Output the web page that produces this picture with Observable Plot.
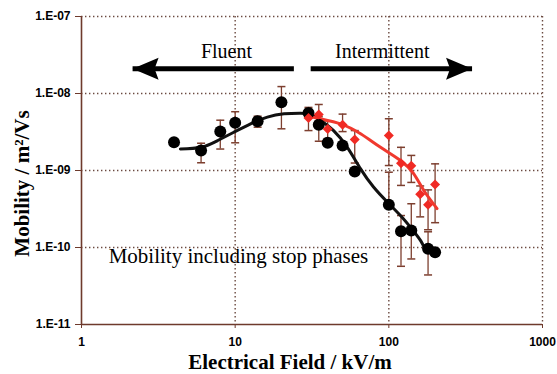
<!DOCTYPE html>
<html><head><meta charset="utf-8">
<script src="https://cdn.jsdelivr.net/npm/d3@7"></script>
<script src="https://cdn.jsdelivr.net/npm/@observablehq/plot@0.6"></script>
<style>body{margin:0;background:#fff}</style>
</head><body><div id="chart"></div>
<script>
// Black series: mobility including stop phases
const blackX = [4, 6, 8, 10, 14, 20, 30, 35, 40, 50, 60, 100, 120, 140, 180, 200];
const blackY = [2.33e-9, 1.82e-9, 3.2e-9, 4.16e-9, 4.37e-9, 7.7e-9, 5.6e-9, 3.93e-9, 2.29e-9, 2.11e-9, 0.97e-9, 3.6e-10, 1.63e-10, 1.66e-10, 9.6e-11, 8.7e-11];
const blackLo = [null, 1.26e-9, 1.9e-9, 2.29e-9, 3.65e-9, 3.48e-9, 3.3e-9, 2.4e-9, null, null, null, 3.6e-10, 5.7e-11, 7.1e-11, 4.4e-11, null];
const blackHi = [null, 2.26e-9, 4.5e-9, 5.8e-9, 5.07e-9, 1.23e-8, 6.6e-9, 5.0e-9, null, null, null, 9.5e-10, 2.6e-10, 3.7e-10, 1.6e-10, null];
// Red series
const redX = [30, 35, 40, 50, 60, 100, 120, 140, 160, 180, 200];
const redY = [4.8e-9, 5.33e-9, 3.47e-9, 3.94e-9, 2.53e-9, 2.85e-9, 1.24e-9, 1.15e-9, 4.9e-10, 3.6e-10, 6.6e-10];
const redLo = [null, 4.0e-9, 2.6e-9, 3.2e-9, 1.25e-9, 1.16e-9, 6.4e-10, 7.0e-10, 2.5e-10, 1.7e-10, 2.1e-10];
const redHi = [null, 7.2e-9, 4.4e-9, 5.4e-9, 3.3e-9, 4.7e-9, 2.0e-9, 1.57e-9, 6.3e-10, 5.6e-10, 1.22e-9];
// Fitted curves
const blackFitX = [4.4, 6, 7.7, 9.8, 12.6, 16.2, 20.8, 26.7, 31, 36, 43.7, 53.7, 65.5, 79.5, 97.7, 119, 138, 161, 173, 192];
const blackFitY = [1.9e-9, 2.0e-9, 2.45e-9, 3.14e-9, 4.04e-9, 4.93e-9, 5.44e-9, 5.55e-9, 5.33e-9, 4.46e-9, 3.3e-9, 2.0e-9, 1.05e-9, 6.1e-10, 3.9e-10, 2.6e-10, 1.84e-10, 1.23e-10, 9.6e-11, 8.7e-11];
const redFitX = [29.5, 36, 48.5, 65.5, 88.3, 119, 145, 169, 206];
const redFitY = [5.18e-9, 4.69e-9, 4.04e-9, 3.0e-9, 2.0e-9, 1.35e-9, 9.1e-10, 5.5e-10, 3.2e-10];
// Axes
const xTicks = [1, 10, 100, 1000];
const xTickLabels = ["1", "10", "100", "1000"];
const yTicks = [1e-11, 1e-10, 1e-9, 1e-8, 1e-7];
const yTickLabels = ["1.E-11", "1.E-10", "1.E-09", "1.E-08", "1.E-07"];
const xLabel = "Electrical Field / kV/m";
const yLabel = "Mobility / m²/Vs";
// Annotations
const noteText = ["Fluent", "Intermittent", "Mobility including stop phases"];
const noteX = [8.78, 90.6, 10.5];
const noteY = [3.5e-8, 3.5e-8, 7.6e-11];
const noteSize = [20, 20, 21];
const arrowFromX = [24.1, 31];
const arrowToX = [2.15, 348];
const arrowY = 2.09e-8;

const brown = "#6e3a2c";
const errColor = "#7d3f2f";
const serif = "Liberation Serif";

const bData = blackX.map((x, i) => ({x, y: blackY[i], lo: blackLo[i], hi: blackHi[i]}));
const rData = redX.map((x, i) => ({x, y: redY[i], lo: redLo[i], hi: redHi[i]}));
const errs = [...bData, ...rData].filter(d => d.lo != null);
const caps = errs.flatMap(d => [{x: d.x, y: d.lo}, {x: d.x, y: d.hi}]);
const bFit = blackFitX.map((x, i) => ({x, y: blackFitY[i]}));
const rFit = redFitX.map((x, i) => ({x, y: redFitY[i]}));
const notes = noteText.map((t, i) => ({t, x: noteX[i], y: noteY[i], s: noteSize[i]}));
const arrows = arrowFromX.map((x, i) => ({x1: x, x2: arrowToX[i], y: arrowY, dir: i === 0 ? "L" : "R"}));

const capSymbol = {draw(ctx) { ctx.moveTo(-4, 0); ctx.lineTo(4, 0); }};
const leftHead = {draw(ctx) { ctx.moveTo(0, 0); ctx.lineTo(26, -11); ctx.lineTo(22, 0); ctx.lineTo(26, 11); ctx.closePath(); }};
const rightHead = {draw(ctx) { ctx.moveTo(0, 0); ctx.lineTo(-26, -11); ctx.lineTo(-22, 0); ctx.lineTo(-26, 11); ctx.closePath(); }};

const chart = Plot.plot({
  width: 557, height: 374,
  marginLeft: 81, marginRight: 15, marginTop: 16, marginBottom: 50,
  style: {fontFamily: "Liberation Sans", fontWeight: "bold", fontSize: "12px", background: "#fff", overflow: "visible"},
  x: {type: "log", domain: [1, 1000]},
  y: {type: "log", domain: [1e-11, 1e-7]},
  marks: [
    Plot.gridY(yTicks.slice(1), {stroke: "#6b4a40", strokeOpacity: 1, strokeWidth: 1.4, strokeDasharray: "1.4,2.6"}),
    Plot.gridX(xTicks.slice(1), {stroke: "#6b4a40", strokeOpacity: 1, strokeWidth: 1.4, strokeDasharray: "1.4,2.6"}),
    Plot.axisX(xTicks, {tickFormat: d => xTickLabels[xTicks.indexOf(d)], tickSize: 4, tickPadding: 9, stroke: brown, fill: "black", label: null, fontSize: 12, fontWeight: "bold"}),
    Plot.axisY(yTicks, {tickFormat: d => yTickLabels[yTicks.indexOf(d)], tickSize: 6, tickPadding: 5, stroke: brown, fill: "black", label: null, fontSize: 12, fontWeight: "bold"}),
    Plot.ruleX([1], {stroke: brown, strokeWidth: 1.6}),
    Plot.ruleY([1e-11], {stroke: brown, strokeWidth: 1.6}),
    Plot.ruleX(errs, {x: "x", y1: "lo", y2: "hi", stroke: errColor, strokeWidth: 1.3}),
    Plot.dot(caps, {x: "x", y: "y", symbol: capSymbol, stroke: errColor, strokeWidth: 1.5, fill: "none"}),
    Plot.line(bFit, {x: "x", y: "y", stroke: "#111", strokeWidth: 3, curve: "natural"}),
    Plot.line(rFit, {x: "x", y: "y", stroke: "#f0392e", strokeWidth: 3, curve: "natural"}),
    Plot.dot(bData, {x: "x", y: "y", r: 6, fill: "#000", stroke: "none"}),
    Plot.dot(rData, {x: "x", y: "y", r: 4.5, symbol: "diamond2", fill: "#f02a24", stroke: "none"}),
    Plot.link(arrows, {x1: "x1", x2: "x2", y1: "y", y2: "y", stroke: "#000", strokeWidth: 5}),
    Plot.dot(arrows.filter(d => d.dir === "L"), {x: "x2", y: "y", symbol: leftHead, fill: "#000", stroke: "none"}),
    Plot.dot(arrows.filter(d => d.dir === "R"), {x: "x2", y: "y", symbol: rightHead, fill: "#000", stroke: "none"}),
    Plot.text(notes, {x: "x", y: "y", text: "t", fontSize: d => d.s, fontFamily: serif, fontWeight: "normal", fill: "#000", textAnchor: "middle", lineAnchor: "middle"}),
    Plot.text([xLabel], {frameAnchor: "bottom", text: d => d, dx: -22, dy: 38, fontFamily: serif, fontWeight: "bold", fontSize: 21, fill: "#000", textAnchor: "middle", lineAnchor: "middle"}),
    Plot.text([yLabel], {frameAnchor: "left", text: d => d, dx: -59, dy: 13, rotate: -90, fontFamily: serif, fontWeight: "bold", fontSize: 21, fill: "#000", textAnchor: "middle", lineAnchor: "middle"})
  ]
});
document.getElementById("chart").appendChild(chart);
</script>
</body></html>
